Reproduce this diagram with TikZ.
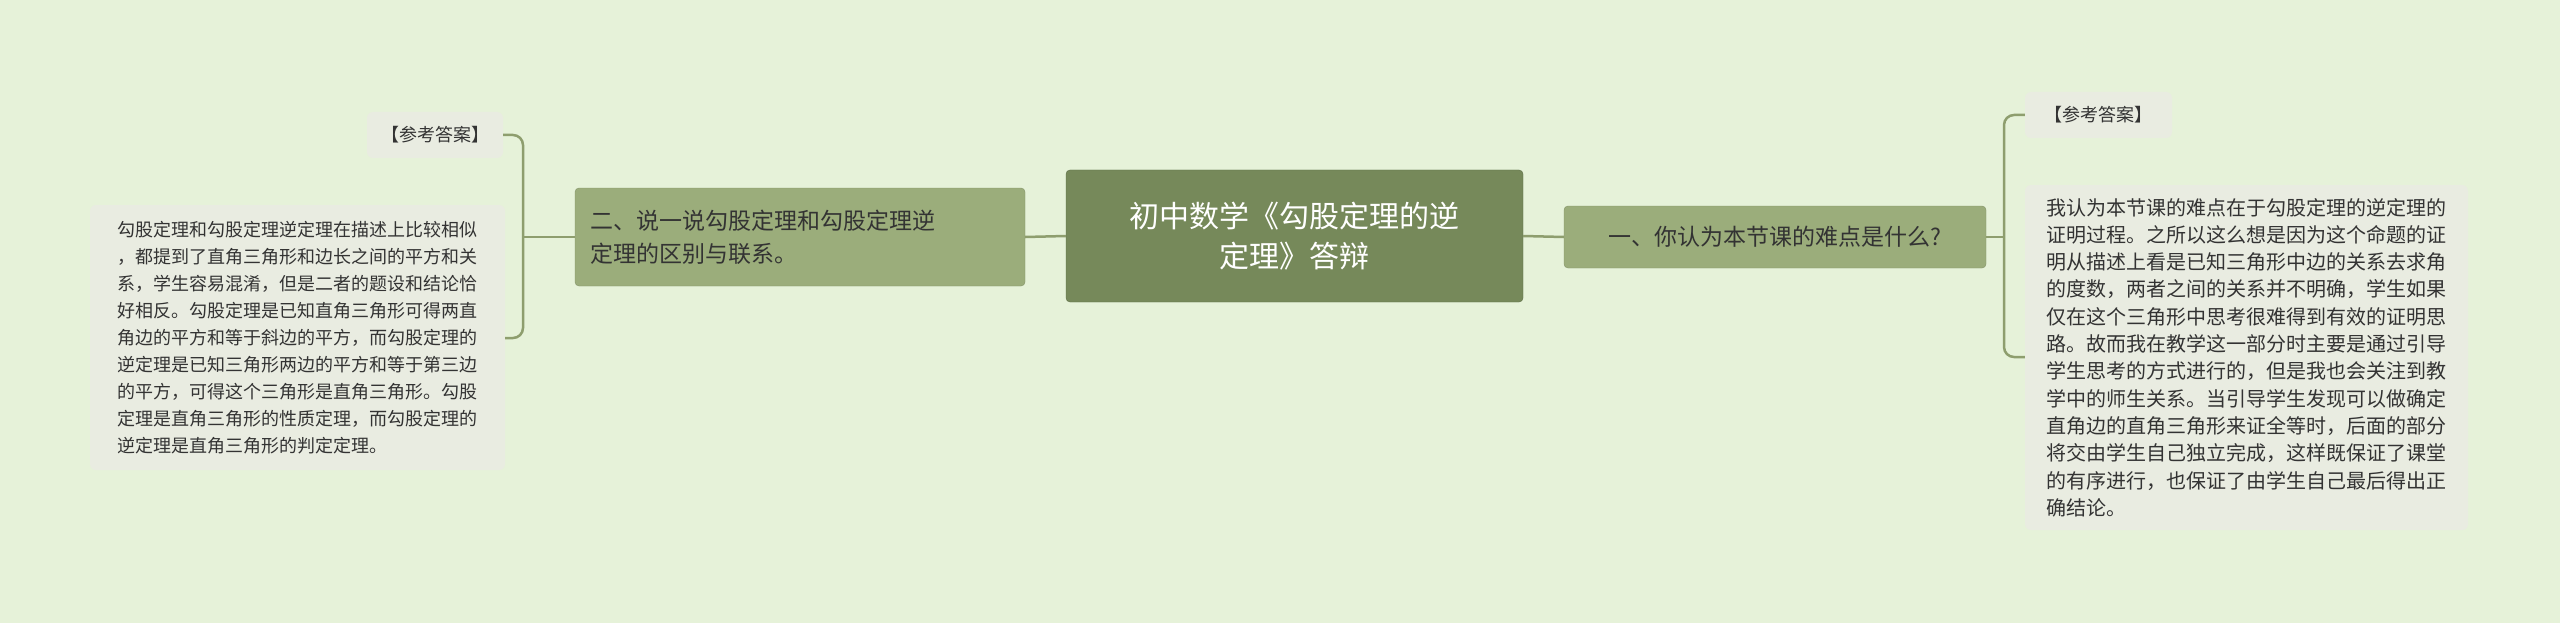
\documentclass[tikz,border=0pt]{standalone}
\usepackage{fontspec}
\setmainfont{Noto Sans CJK SC}
\definecolor{bg}{HTML}{E6F2D9}
\definecolor{mainc}{HTML}{76895A}
\definecolor{subc}{HTML}{9BAD7B}
\definecolor{boxc}{HTML}{E9ECE1}
\definecolor{linec}{HTML}{8E9E6E}
\definecolor{txt}{HTML}{333333}
\tikzset{
  mainnode/.style={fill=mainc,draw=mainc!80!black,rounded corners=4pt,text=white,align=center,font=\fontsize{30}{40}\selectfont,minimum width=457pt,minimum height=132pt},
  subnode/.style={fill=subc,draw=subc!85!black,rounded corners=4pt,text=txt,align=left,font=\fontsize{23}{33}\selectfont,inner sep=0pt},
  lbl/.style={fill=boxc,rounded corners=6pt,text=txt,font=\fontsize{18}{24}\selectfont,inner sep=0pt},
  para/.style={fill=boxc,rounded corners=6pt,text=txt,align=left,inner sep=0pt},
  conn/.style={draw=linec,line width=2.5pt,rounded corners=10pt}
}
\begin{document}
\begin{tikzpicture}[x=1pt,y=-1pt]
\fill[bg] (0,0) rectangle (2560,623);
\useasboundingbox (0,0) rectangle (2560,623);
\node[mainnode] (c) at (1294.5,236) {初中数学《勾股定理的逆\\定理》答辩};
\node[subnode,minimum width=450pt,minimum height=98pt,text width=420pt] (l) at (800,237) {二、说一说勾股定理和勾股定理逆\\定理的区别与联系。};
\node[subnode,minimum width=422pt,minimum height=62pt,align=center] (r) at (1775,237) {一、你认为本节课的难点是什么?};
\node[lbl,minimum width=136pt,minimum height=46pt] (la) at (435,135) {【参考答案】};
\node[para,minimum width=415pt,minimum height=265pt,font=\fontsize{18}{27}\selectfont] (lt) at (297.5,337.5) {勾股定理和勾股定理逆定理在描述上比较相似\\，都提到了直角三角形和边长之间的平方和关\\系，学生容易混淆，但是二者的题设和结论恰\\好相反。勾股定理是已知直角三角形可得两直\\角边的平方和等于斜边的平方，而勾股定理的\\逆定理是已知三角形两边的平方和等于第三边\\的平方，可得这个三角形是直角三角形。勾股\\定理是直角三角形的性质定理，而勾股定理的\\逆定理是直角三角形的判定定理。};
\node[lbl,minimum width=147pt,minimum height=46pt] (ra) at (2098.5,115) {【参考答案】};
\node[para,minimum width=443pt,minimum height=345pt,font=\fontsize{20}{27.3}\selectfont] (rt) at (2246.5,357.5) {我认为本节课的难点在于勾股定理的逆定理的\\证明过程。之所以这么想是因为这个命题的证\\明从描述上看是已知三角形中边的关系去求角\\的度数，两者之间的关系并不明确，学生如果\\仅在这个三角形中思考很难得到有效的证明思\\路。故而我在教学这一部分时主要是通过引导\\学生思考的方式进行的，但是我也会关注到教\\学中的师生关系。当引导学生发现可以做确定\\直角边的直角三角形来证全等时，后面的部分\\将交由学生自己独立完成，这样既保证了课堂\\的有序进行，也保证了由学生自己最后得出正\\确结论。};
\draw[draw=linec,line width=2.5pt] (c.west) -- (l.east);
\draw[draw=linec,line width=2.5pt] (c.east) -- (r.west);
\draw[draw=linec,line width=2.5pt] (l.west) -- (523,237);
\draw[conn] (la.east) -- (523,135) -- (523,338) -- (lt.east|-0,338);
\draw[draw=linec,line width=2.5pt] (r.east) -- (2004,237);
\draw[conn] (ra.west) -- (2004,115) -- (2004,357) -- (rt.west|-0,357);
\end{tikzpicture}
\end{document}
